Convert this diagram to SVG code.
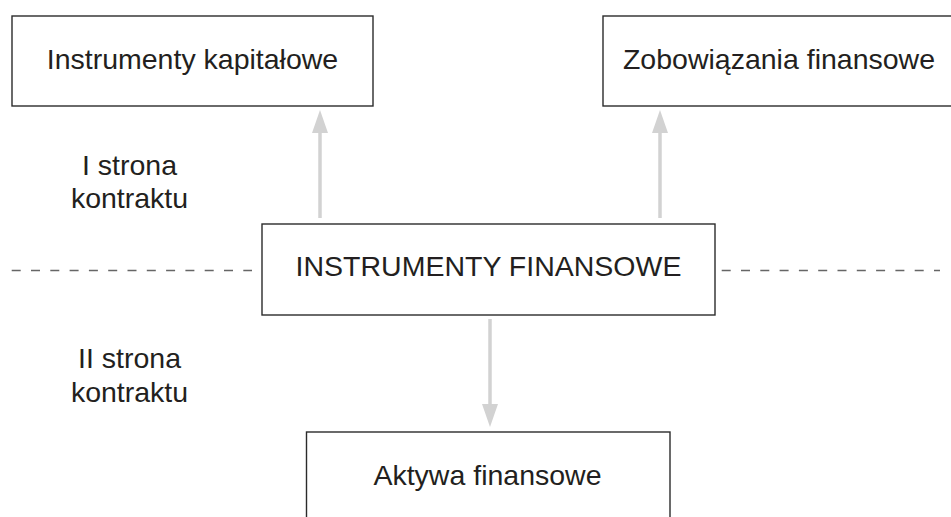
<svg xmlns="http://www.w3.org/2000/svg" width="951" height="517" viewBox="0 0 951 517">
<style>
.box{fill:#fff;stroke:#2b2b2b;stroke-width:1.4}
.t{font-family:"Liberation Sans",Arial,sans-serif;font-size:28.5px;fill:#231f20}
.m{text-anchor:middle}
.conn{stroke:#d2d2d2;stroke-width:3.5;fill:none}
.dash{stroke:#666;stroke-width:1.3;stroke-dasharray:9 10.3;fill:none}
</style>
<defs>
<marker id="ah" markerWidth="23" markerHeight="16" refX="0" refY="8" orient="auto" markerUnits="userSpaceOnUse" viewBox="0 0 23 16">
<path d="M0,0 L23,8 L0,16 Z" fill="#d2d2d2"/>
</marker>
</defs>
<rect width="951" height="517" fill="#fff"/>
<g id="divider">
<line class="dash" x1="11.7" y1="270.5" x2="252" y2="270.5"/>
<line class="dash" x1="721.7" y1="270.5" x2="940" y2="270.5"/>
</g>
<g id="connectors">
<line class="conn" x1="320" y1="218" x2="320" y2="133" marker-end="url(#ah)"/>
<line class="conn" x1="660" y1="218" x2="660" y2="133" marker-end="url(#ah)"/>
<line class="conn" x1="490" y1="319" x2="490" y2="404" marker-end="url(#ah)"/>
</g>
<g id="instrumenty-kapitalowe">
<rect class="box" x="12" y="16" width="361" height="90"/>
<text class="t m" x="192.5" y="69">Instrumenty kapitałowe</text>
</g>
<g id="zobowiazania-finansowe">
<rect class="box" x="603" y="16" width="352" height="90"/>
<text class="t m" x="779" y="69">Zobowiązania finansowe</text>
</g>
<g id="instrumenty-finansowe">
<rect class="box" x="262" y="224" width="453" height="91"/>
<text class="t m" x="488.5" y="276">INSTRUMENTY FINANSOWE</text>
</g>
<g id="aktywa-finansowe">
<rect class="box" x="306.5" y="432" width="363.5" height="100"/>
<text class="t m" x="487.5" y="485">Aktywa finansowe</text>
</g>
<g id="label-1">
<text class="t m" x="129.5" y="175">I strona</text>
<text class="t m" x="129.5" y="208">kontraktu</text>
</g>
<g id="label-2">
<text class="t m" x="129.5" y="368">II strona</text>
<text class="t m" x="129.5" y="402">kontraktu</text>
</g>
</svg>
